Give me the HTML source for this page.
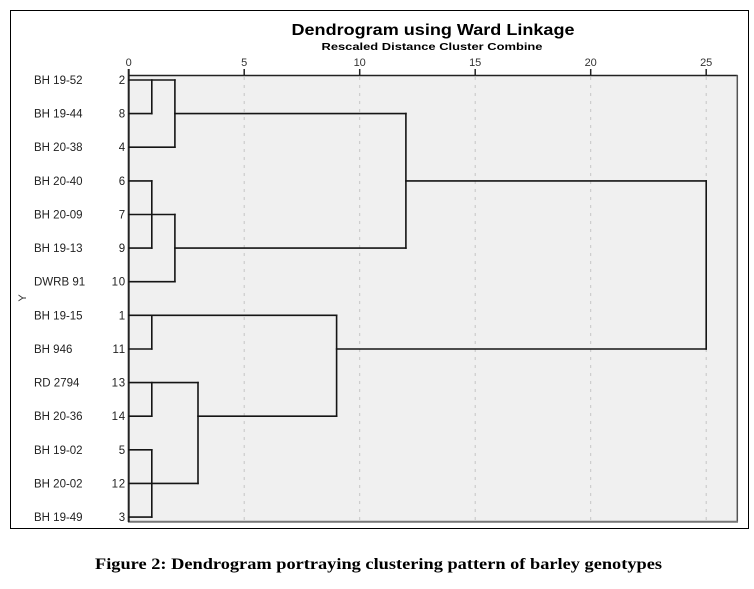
<!DOCTYPE html>
<html>
<head>
<meta charset="utf-8">
<style>
  html,body{margin:0;padding:0;background:#fff;}
  svg{display:block;}
</style>
</head>
<body>
<svg width="754" height="589" viewBox="0 0 754 589" xmlns="http://www.w3.org/2000/svg">
  <rect x="0" y="0" width="754" height="589" fill="#fff"/>
  <!-- outer frame -->
  <rect x="10.5" y="10.5" width="738" height="518" fill="#fff" stroke="#000" stroke-width="1"/>

  <!-- title -->
  <text x="433" y="35" font-family="Liberation Sans, sans-serif" font-weight="bold" font-size="16" text-anchor="middle" textLength="283" lengthAdjust="spacingAndGlyphs" fill="#000">Dendrogram using Ward Linkage</text>
  <text x="432" y="50" font-family="Liberation Sans, sans-serif" font-weight="bold" font-size="10.5" text-anchor="middle" textLength="221" lengthAdjust="spacingAndGlyphs" fill="#000">Rescaled Distance Cluster Combine</text>

  <!-- plot area -->
  <rect x="128.7" y="75" width="608.5" height="447" fill="#f0f0f0"/>
  <!-- gridlines -->
  <g stroke="#c6c6c6" stroke-width="1" stroke-dasharray="3,5">
    <line x1="244.2" y1="77" x2="244.2" y2="521"/>
    <line x1="359.7" y1="77" x2="359.7" y2="521"/>
    <line x1="475.2" y1="77" x2="475.2" y2="521"/>
    <line x1="590.7" y1="77" x2="590.7" y2="521"/>
    <line x1="706.2" y1="77" x2="706.2" y2="521"/>
  </g>
  <!-- borders -->
  <line x1="128" y1="75.5" x2="737.5" y2="75.5" stroke="#222" stroke-width="1.5"/>
  <line x1="737.3" y1="75" x2="737.3" y2="522" stroke="#555" stroke-width="1.5"/>
  <line x1="128" y1="521.7" x2="738" y2="521.7" stroke="#777" stroke-width="2"/>
  <line x1="128.7" y1="69" x2="128.7" y2="522" stroke="#222" stroke-width="2"/>

  <!-- ticks -->
  <g stroke="#222" stroke-width="1.5">
    <line x1="244.2" y1="69" x2="244.2" y2="75"/>
    <line x1="359.7" y1="69" x2="359.7" y2="75"/>
    <line x1="475.2" y1="69" x2="475.2" y2="75"/>
    <line x1="590.7" y1="69" x2="590.7" y2="75"/>
    <line x1="706.2" y1="69" x2="706.2" y2="75"/>
  </g>
  <g font-family="Liberation Sans, sans-serif" font-size="11" fill="#333" text-anchor="middle">
    <text x="128.7" y="66">0</text>
    <text x="244.2" y="66">5</text>
    <text x="359.7" y="66">10</text>
    <text x="475.2" y="66">15</text>
    <text x="590.7" y="66">20</text>
    <text x="706.2" y="66">25</text>
  </g>

  <!-- row labels -->
  <g font-family="Liberation Sans, sans-serif" font-size="11.5" fill="#222">
    <text x="34" y="84">BH 19-52</text>
    <text x="34" y="117.6">BH 19-44</text>
    <text x="34" y="151.2">BH 20-38</text>
    <text x="34" y="184.9">BH 20-40</text>
    <text x="34" y="218.5">BH 20-09</text>
    <text x="34" y="252.1">BH 19-13</text>
    <text x="34" y="285.7">DWRB 91</text>
    <text x="34" y="319.3">BH 19-15</text>
    <text x="34" y="353">BH 946</text>
    <text x="34" y="386.6">RD 2794</text>
    <text x="34" y="420.2">BH 20-36</text>
    <text x="34" y="453.8">BH 19-02</text>
    <text x="34" y="487.4">BH 20-02</text>
    <text x="34" y="521.1">BH 19-49</text>
  </g>
  <g font-family="Liberation Sans, sans-serif" font-size="11.5" fill="#222" text-anchor="end" letter-spacing="0.8">
    <text x="126" y="84">2</text>
    <text x="126" y="117.6">8</text>
    <text x="126" y="151.2">4</text>
    <text x="126" y="184.9">6</text>
    <text x="126" y="218.5">7</text>
    <text x="126" y="252.1">9</text>
    <text x="126" y="285.7">10</text>
    <text x="126" y="319.3">1</text>
    <text x="126" y="353">11</text>
    <text x="126" y="386.6">13</text>
    <text x="126" y="420.2">14</text>
    <text x="126" y="453.8">5</text>
    <text x="126" y="487.4">12</text>
    <text x="126" y="521.1">3</text>
  </g>
  <!-- Y axis label -->
  <text x="0" y="0" transform="translate(26,298) rotate(-90)" font-family="Liberation Sans, sans-serif" font-size="11" fill="#333" text-anchor="middle">Y</text>

  <!-- dendrogram -->
  <g stroke="#151515" stroke-width="1.6" fill="none" stroke-linecap="square">
    <!-- top cluster -->
    <line x1="129" y1="80" x2="174.9" y2="80"/>
    <line x1="151.8" y1="80" x2="151.8" y2="113.6"/>
    <line x1="129" y1="113.6" x2="151.8" y2="113.6"/>
    <line x1="174.9" y1="113.6" x2="405.9" y2="113.6"/>
    <line x1="174.9" y1="80" x2="174.9" y2="147.2"/>
    <line x1="129" y1="147.2" x2="174.9" y2="147.2"/>
    <line x1="405.9" y1="113.6" x2="405.9" y2="248.1"/>

    <line x1="129" y1="180.9" x2="151.8" y2="180.9"/>
    <line x1="151.8" y1="180.9" x2="151.8" y2="248.1"/>
    <line x1="129" y1="214.5" x2="174.9" y2="214.5"/>
    <line x1="129" y1="248.1" x2="151.8" y2="248.1"/>
    <line x1="174.9" y1="248.1" x2="405.9" y2="248.1"/>
    <line x1="174.9" y1="214.5" x2="174.9" y2="281.7"/>
    <line x1="129" y1="281.7" x2="174.9" y2="281.7"/>

    <!-- top merge -->
    <line x1="405.9" y1="180.9" x2="706.2" y2="180.9"/>
    <line x1="706.2" y1="180.9" x2="706.2" y2="349"/>
    <line x1="336.6" y1="349" x2="706.2" y2="349"/>

    <!-- bottom cluster -->
    <line x1="129" y1="315.3" x2="336.6" y2="315.3"/>
    <line x1="151.8" y1="315.3" x2="151.8" y2="349"/>
    <line x1="129" y1="349" x2="151.8" y2="349"/>
    <line x1="336.6" y1="315.3" x2="336.6" y2="416.2"/>

    <line x1="129" y1="382.6" x2="198" y2="382.6"/>
    <line x1="151.8" y1="382.6" x2="151.8" y2="416.2"/>
    <line x1="129" y1="416.2" x2="151.8" y2="416.2"/>
    <line x1="198" y1="416.2" x2="336.6" y2="416.2"/>
    <line x1="198" y1="382.6" x2="198" y2="483.4"/>

    <line x1="129" y1="449.8" x2="151.8" y2="449.8"/>
    <line x1="151.8" y1="449.8" x2="151.8" y2="517.1"/>
    <line x1="129" y1="483.4" x2="198" y2="483.4"/>
    <line x1="129" y1="517.1" x2="151.8" y2="517.1"/>
  </g>

  <!-- caption -->
  <text x="378.5" y="569" font-family="Liberation Serif, serif" font-weight="bold" font-size="16" text-anchor="middle" textLength="567" lengthAdjust="spacingAndGlyphs" fill="#000">Figure 2: Dendrogram portraying clustering pattern of barley genotypes</text>
</svg>
</body>
</html>
